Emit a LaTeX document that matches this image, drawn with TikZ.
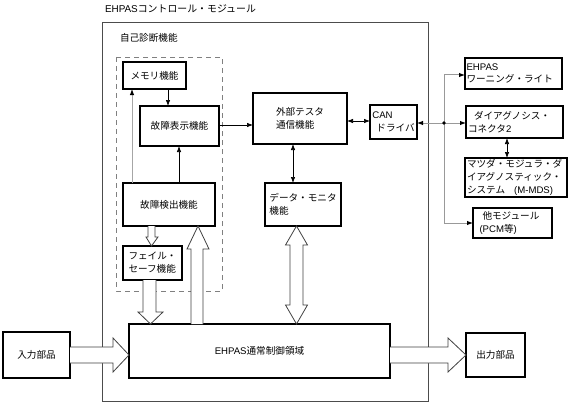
\documentclass[tikz,border=0pt]{standalone}
\usepackage{fontspec}
\setmainfont{Noto Sans CJK JP}
\newfontfamily\lat{Liberation Sans}
\usetikzlibrary{arrows.meta,calc}
\begin{document}
\begin{tikzpicture}[x=1pt,y=-1pt,
  every node/.style={font=\fontsize{9.6}{12.8}\selectfont, inner sep=0pt, outer sep=0pt},
  box/.style={draw=black, line width=1.1pt, anchor=north west, inner sep=0pt},
  lbl/.style={anchor=west},
  arr/.style={line width=0.7pt, -{Latex[length=6pt,width=4.5pt]}},
  darr/.style={line width=0.7pt, {Latex[length=6pt,width=4.5pt]}-{Latex[length=6pt,width=4.5pt]}},
  busarr/.style={draw=black!40, line width=1pt, -{Latex[length=6pt,width=4.5pt,color=black]}},
  hollow/.style={draw=black!75, fill=white, line width=0.8pt, line join=miter},
  dashbox/.style={draw=black!50, line width=0.9pt, dash pattern=on 5pt off 4pt},
  modbox/.style={draw=black!70, line width=1pt},
]
\useasboundingbox (0,0) rectangle (573,404);

% module frame and labels
\draw[modbox] (102,23) rectangle (428,401);
\node[lbl, font=\fontsize{9.9}{12}\selectfont] (title) at (105,9) {{\lat EHPAS}コントロール・モジュール};
\node[lbl] (selfdiag) at (120,38) {自己診断機能};
\draw[dashbox] (116,57) rectangle (222,291);

% boxes
\node[box, minimum width=63, minimum height=27] (mem) at (123,62) {メモリ機能};
\node[box, minimum width=79, minimum height=40] (disp) at (140,106) {故障表示機能};
\node[box, minimum width=92, minimum height=43] (det) at (123,183) {故障検出機能};
\node[box, minimum width=59, minimum height=34, align=left] (fs) at (123,246) {フェイル・\\セーフ機能};
\node[box, minimum width=94, minimum height=51, align=left] (ext) at (253,93) {外部テスタ\\通信機能};
\node[box, minimum width=76, minimum height=43, align=left] (dm) at (265,183) {データ・モニタ\\機能};
\node[box, minimum width=47, minimum height=34, align=left] (can) at (370,105) {{\lat CAN}\\\hspace*{4pt}ドライバ};
\node[box, minimum width=261, minimum height=54] (ctl) at (129,324) {{\lat EHPAS}通常制御領域};
\node[box, minimum width=67, minimum height=46] (in) at (3,332) {入力部品};
\node[box, minimum width=59, minimum height=44] (out) at (466,333) {出力部品};
\node[box, minimum width=97, minimum height=31, text width=94, align=left] (warn) at (465,58) {{\lat EHPAS}\\ワーニング・ライト};
\node[box, minimum width=97, minimum height=32, text width=93, align=left] (diag) at (466,106) {\hspace*{6pt}ダイアグノシス・\\コネクタ{\lat 2}};
\node[box, minimum width=102, minimum height=39, text width=98, align=left] (mmds) at (465,158) {マツダ・モジュラ・ダ\\イアグノスティック・\\システム\hspace*{9pt}{\lat (M-MDS)}};
\node[box, minimum width=79, minimum height=30, text width=66, align=left] (oth) at (473,208) {\hspace*{3pt}他モジュール\\{\lat (PCM}等{\lat )}};

% thin arrows inside
\draw[arr] (168,0 |- mem.south) -- (168,0 |- disp.north);
\draw[arr] (179,0 |- det.north) -- (179,0 |- disp.south);
\draw[line width=1pt, draw=black!35, -{Latex[length=6pt,width=4.5pt,color=black]}] (132,0 |- det.north) -- (132,0 |- mem.south);
\draw[arr] (disp.east |- 0,125) -- (ext.west |- 0,125);
\draw[darr] (ext.east |- 0,121) -- (can.west |- 0,121);
\draw[darr] (293,0 |- ext.south) -- (293,0 |- dm.north);
\draw[darr] (507,0 |- diag.south) -- (507,0 |- mmds.north);

% CAN bus
\coordinate (j) at (444,123);
\draw[busarr] (j) -- (can.east |- j);
\draw[busarr] (j) -- (j |- 0,75) -- (warn.west |- 0,75);
\draw[busarr] (j) -- (diag.west |- j);
\draw[busarr] (j) -- (j |- oth.west) -- (oth.west);
\fill (j) circle (1.9);

% hollow arrows
% failure detection -> fail-safe
\draw[hollow] (148,0 |- det.south) -- (148,237) -- (146,237) -- (151.5,0 |- fs.north) -- (158,237) -- (155,237) -- (155,0 |- det.south);
% fail-safe -> control
\draw[hollow] (143,0 |- fs.south) -- (143,312) -- (138,312) -- (150.5,0 |- ctl.north) -- (163,312) -- (156,312) -- (156,0 |- fs.south);
% control -> failure detection
\draw[hollow] (191,0 |- ctl.north) -- (191,249) -- (187,249) -- (198,0 |- det.south) -- (209,249) -- (203,249) -- (203,0 |- ctl.north);
% data monitor <-> control
\draw[hollow] (296.5,0 |- dm.south) -- (307.5,245) -- (303,245) -- (303,305) -- (307.5,305) -- (296.5,0 |- ctl.north) -- (285.5,305) -- (290,305) -- (290,245) -- (285.5,245) -- cycle;
% input -> control
\draw[hollow] (in.east |- 0,347) -- (113,347) -- (113,338) -- (ctl.west |- 0,355) -- (113,372) -- (113,363) -- (in.east |- 0,363);
% control -> output
\draw[hollow] (ctl.east |- 0,347) -- (448,347) -- (448,338) -- (out.west |- 0,355) -- (448,372) -- (448,363) -- (ctl.east |- 0,363);
\end{tikzpicture}
\end{document}
